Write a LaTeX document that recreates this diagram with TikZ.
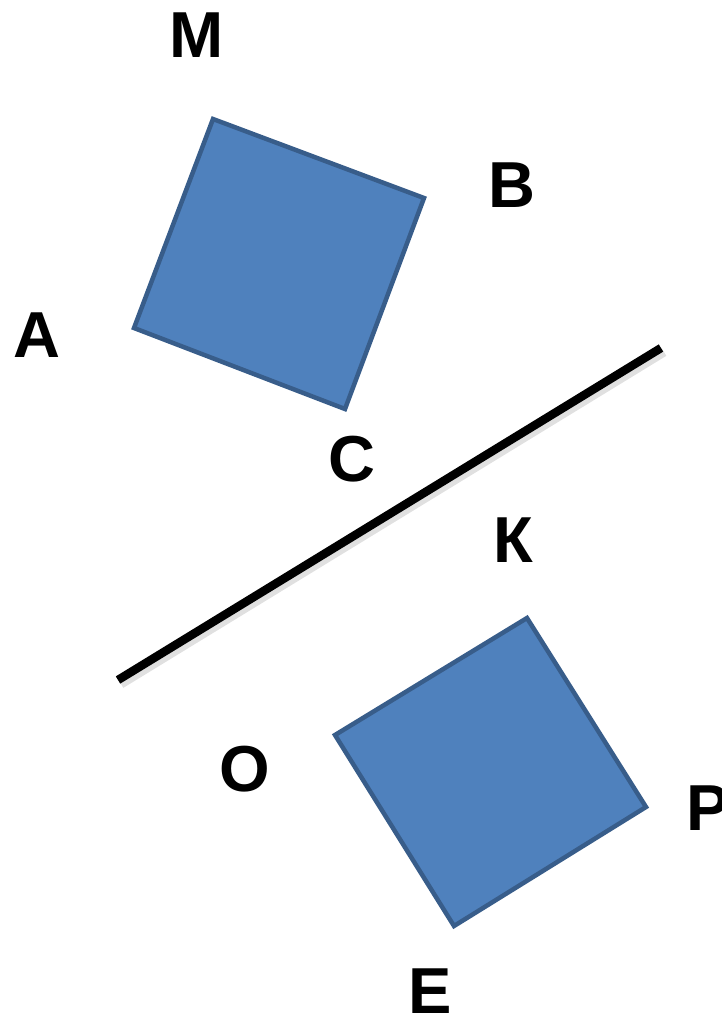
\documentclass[tikz,border=0pt]{standalone}
\usepackage{fontspec}
\setmainfont{Liberation Sans}
\definecolor{sqfill}{HTML}{4F81BD}
\definecolor{sqline}{HTML}{385D8A}
\tikzset{
  sq/.style={fill=sqfill, draw=sqline, line width=4.5pt, line join=miter},
  lbl/.style={inner sep=0pt, anchor=base, font=\fontsize{65}{65}\selectfont\bfseries},
  axisline/.style={line width=8.5pt, black},
  axisshadow/.style={line width=9pt, black, opacity=0.12}
}
\begin{document}
\begin{tikzpicture}[x=1pt,y=-1pt]
\useasboundingbox (0,0) rectangle (722,1015);
% first square
\coordinate (m) at (213,119);
\coordinate (b) at (424,198);
\coordinate (c) at (345,409);
\coordinate (a) at (134,328);
\draw[sq] (m) -- (b) -- (c) -- (a) -- cycle;
% second square
\coordinate (k) at (527,618);
\coordinate (p) at (646,807);
\coordinate (e) at (454,926);
\coordinate (o) at (335,735);
\draw[sq] (k) -- (p) -- (e) -- (o) -- cycle;
% line
\coordinate (l1) at (118,680);
\coordinate (l2) at (661,348);
\coordinate (s1) at (121,684);
\coordinate (s2) at (664,352);
\draw[axisshadow] (s1) -- (s2);
\draw[axisline] (l1) -- (l2);
% labels
\node[lbl] (lM) at (196.5,57) {М};
\node[lbl] (lB) at (511.5,207) {В};
\node[lbl] (lA) at (36.5,357) {А};
\node[lbl] (lC) at (352,481) {С};
\node[lbl] (lK) at (513,562) {К};
\node[lbl] (lO) at (244.5,791) {О};
\node[lbl] (lP) at (708,830) {Р};
\node[lbl] (lE) at (430.5,1013) {Е};
\end{tikzpicture}
\end{document}
